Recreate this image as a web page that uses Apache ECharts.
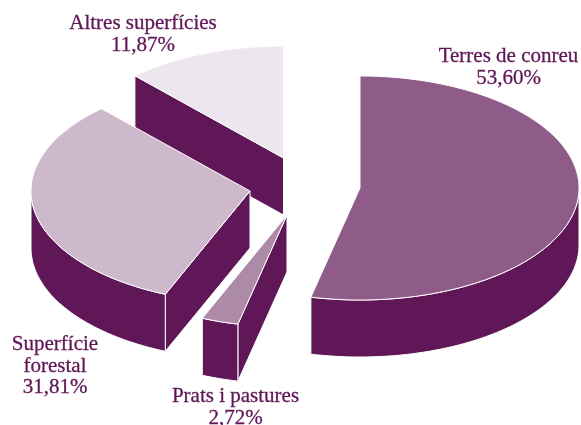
<!DOCTYPE html>
<html>
<head>
<meta charset="utf-8">
<title>Superficies</title>
<style>
  html, body { margin: 0; padding: 0; background: #fff; }
  #chart { width: 581px; height: 425px; }
</style>
<script src="https://cdn.jsdelivr.net/npm/echarts@6/dist/echarts.min.js"></script>
</head>
<body>
<div id="chart"></div>
<script>
// dades
var categories = ['Terres de conreu', 'Prats i pastures', 'Superfície\nforestal', 'Altres superfícies'];
var shares = [53.60, 2.72, 31.81, 11.87];
var shareLabels = ['53,60%', '2,72%', '31,81%', '11,87%'];

// estil
var topColors = ['#8f5b89', '#ad8aa8', '#cdb8cc', '#eee6ee'];
var wallColor = '#5f1757';
var textColor = '#5f1757';
var fontFamily = '"Liberation Serif", serif';
var centers = [[360, 188], [287, 215], [250, 191], [283.5, 158]];
var labelPos = [[508.5, 46], [235.5, 386], [55, 334], [143, 13]];
var rx = 219, ry = 112, depth = 57;

var total = shares.reduce(function (a, b) { return a + b; }, 0);

function pt(c, angle, drop) {
  return [c[0] + rx * Math.sin(angle), c[1] - ry * Math.cos(angle) + (drop || 0)];
}

function arcPts(c, a0, a1, drop) {
  var pts = [];
  var n = Math.max(2, Math.ceil(Math.abs(a1 - a0) / 0.02));
  for (var k = 0; k <= n; k++) {
    pts.push(pt(c, a0 + (a1 - a0) * k / n, drop));
  }
  return pts;
}

function poly(points, fill, z2) {
  return {
    type: 'polygon',
    z2: z2,
    shape: { points: points },
    style: { fill: fill, stroke: '#fff', lineWidth: 1 }
  };
}

function renderSlice(params, api) {
  var i = api.value(0);
  var before = 0;
  for (var j = 0; j < i; j++) before += shares[j];
  var a0 = before / total * Math.PI * 2;
  var a1 = (before + shares[i]) / total * Math.PI * 2;
  var c = centers[i];
  var base = (shares.length - i) * 10;
  var children = [];

  // cara del tall, només si mira cap a l'espectador
  if (Math.sin(a0) < -1e-6) {
    children.push(poly([c, pt(c, a0), pt(c, a0, depth), [c[0], c[1] + depth]], wallColor, base));
  }
  if (Math.sin(a1) > 1e-6) {
    children.push(poly([c, pt(c, a1), pt(c, a1, depth), [c[0], c[1] + depth]], wallColor, base));
  }

  // paret exterior: mitja el·lipse de davant
  var w0 = Math.max(a0, Math.PI / 2);
  var w1 = Math.min(a1, Math.PI * 1.5);
  if (w1 > w0) {
    var upper = arcPts(c, w0, w1, 0);
    var lower = arcPts(c, w1, w0, depth);
    children.push(poly(upper.concat(lower), wallColor, base + 1));
  }

  // cara superior
  children.push(poly([c].concat(arcPts(c, a0, a1, 0)), topColors[i], base + 2));

  // etiqueta
  children.push({
    type: 'text',
    z2: 100,
    style: {
      x: labelPos[i][0],
      y: labelPos[i][1],
      text: categories[i] + '\n' + shareLabels[i],
      fill: textColor,
      stroke: textColor,
      lineWidth: 0.3,
      font: '21px ' + fontFamily,
      lineHeight: 21.5,
      align: 'center',
      verticalAlign: 'top'
    }
  });

  return { type: 'group', children: children };
}

var chart = echarts.init(document.getElementById('chart'), null, { renderer: 'canvas' });
chart.setOption({
  animation: false,
  backgroundColor: '#fff',
  series: [{
    type: 'custom',
    coordinateSystem: 'none',
    silent: true,
    clip: false,
    data: shares.map(function (v, i) { return [i, v]; }),
    renderItem: renderSlice
  }]
});
</script>
</body>
</html>
